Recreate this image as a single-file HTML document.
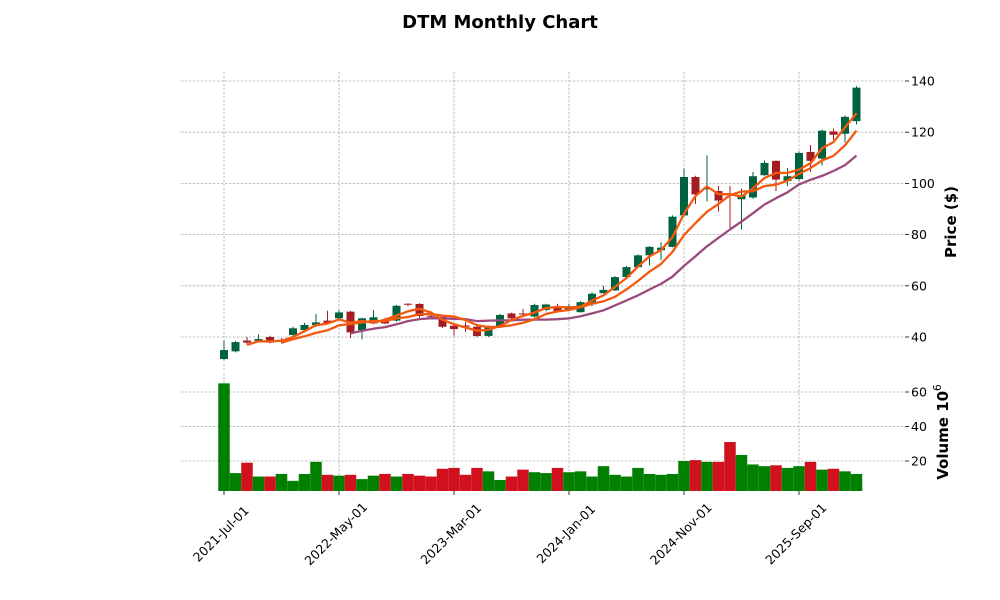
<!DOCTYPE html>
<html><head><meta charset="utf-8"><style>
body{margin:0;background:#fff;}
svg{display:block;font-family:"DejaVu Sans","Liberation Sans",sans-serif;}
</style></head><body>
<svg id="s" width="1000" height="600" xmlns="http://www.w3.org/2000/svg">
<text x="500" y="28" text-anchor="middle" font-size="18" font-weight="bold">DTM Monthly Chart</text>
<g id="g"></g>
</svg>
<script>
const D=[
[31.4,34.9,38.6,31],[34.4,38,38.5,34],[38.6,37.8,40,37],[38.5,39.2,41,38],[40,37.8,40.5,37.5],[38.3,38.7,39.5,37.5],
[40.8,43.4,44,40.5],[42.7,44.7,45.5,42],[44.7,45.7,49,44],[46.4,45.3,50.3,45],[47.3,49.6,50.5,47],[49.9,41.8,50.2,39.5],
[42.7,47.3,47.5,39],[45.3,47.7,50.5,45],[46.6,45.3,47.5,45],[46.4,52.2,52.5,46],[53,52.6,53.2,52],[52.9,48.2,53.2,47.5],
[48.3,47.9,48.6,47],[47.9,44,48.5,43.5],[44.4,43.1,45,40.5],[44.5,44,46,42],[44,40.4,44.5,40],[40.4,44,44.5,40],
[44,48.6,49,43.5],[49.2,47.3,49.5,47],[49.2,48.8,51,48],[48,52.5,53,47.5],[50.6,52.7,53,50],[51.9,50,53,49.5],
[50.5,52,53,50],[49.7,53.6,54,49.5],[52.7,56.9,57.5,52],[57.1,58.4,60,57],[58.2,63.4,63.8,58],[63.4,67.3,67.8,63],
[67.3,71.9,72.3,67],[71.9,75.2,75.5,68],[73.9,74.9,77,70],[75.2,87,87.5,75],[87.5,102.5,105.8,87],[102.5,95.7,103,92],
[97.7,98.3,111,93],[97,93.3,99,89],[96,95.8,99,82.6],[93.8,95.5,98,82],[94.5,102.8,104.5,94],[103.2,108,109,103],
[108.8,101.5,109,97],[100.9,102.8,106,99],[101.7,111.9,112.5,101],[112.3,108.8,115,104.5],[109.7,120.6,121,107],[120.3,119,121.5,117],
[119.4,126,126.5,116],[124.3,137.4,138,123]];
const V=[65,13,19,11,11,12.5,8.5,12.5,19.5,12,11.5,12,9.5,11.5,12.5,11,12.5,11.5,11,15.5,16,12,16,14,9,11,15,13.5,13,16,13.5,14,11,17,12,11,16,12.5,12,12.5,20,20.5,19.5,19.5,31,23.5,18,17,17.5,16,17,19.5,15,15.5,14,12.5];
const X=m=>224+11.5*m, PY=p=>337-(p-40)*2.56, VY=v=>495.5-v*1.725;
let h='';
const G='#006340',R='#a31d23',VG='#007f00',VR='#d0101c';
for(const p of [40,60,80,100,120,140])h+=`<line x1="181" x2="905" y1="${PY(p)}" y2="${PY(p)}" stroke="#b0b0b0" stroke-width="0.8" stroke-dasharray="2.5,1.5"/><line x1="905" x2="909" y1="${PY(p)}" y2="${PY(p)}" stroke="#000" stroke-width="0.8"/><text x="911" y="${PY(p)+4.5}" font-size="12.5">${p}</text>`;
for(const v of [20,40,60])h+=`<line x1="181" x2="905" y1="${VY(v)}" y2="${VY(v)}" stroke="#b0b0b0" stroke-width="0.8" stroke-dasharray="2.5,1.5"/><line x1="905" x2="909" y1="${VY(v)}" y2="${VY(v)}" stroke="#000" stroke-width="0.8"/><text x="911" y="${VY(v)+4.5}" font-size="12.5">${v}</text>`;
const labs=['2021-Jul-01','2022-May-01','2023-Mar-01','2024-Jan-01','2024-Nov-01','2025-Sep-01'];
labs.forEach((l,i)=>{const x=X(i*10);
h+=`<line x1="${x}" x2="${x}" y1="72" y2="370" stroke="#b0b0b0" stroke-width="0.8" stroke-dasharray="2.5,1.5"/><line x1="${x}" x2="${x}" y1="373" y2="491" stroke="#b0b0b0" stroke-width="0.8" stroke-dasharray="2.5,1.5"/><line x1="${x}" x2="${x}" y1="491" y2="495" stroke="#000" stroke-width="0.8"/><text transform="translate(${x},537) rotate(-45)" text-anchor="middle" font-size="12.5">${l}</text>`;});
V.forEach((v,i)=>{const c=D[i][1]>=D[i][0]?VG:VR;const y=VY(v);h+=`<rect x="${X(i)-5.75}" y="${y}" width="11.5" height="${491-y}" fill="${c}"/>`;});
D.forEach((d,i)=>{const [o,c,hi,lo]=d;const col=c>=o?G:R;const x=X(i);
h+=`<line x1="${x}" x2="${x}" y1="${PY(hi)}" y2="${PY(lo)}" stroke="${col}" stroke-width="1"/>`;
const t=PY(Math.max(o,c)),b=PY(Math.min(o,c));h+=`<rect x="${x-4}" y="${t}" width="8" height="${Math.max(b-t,1)}" fill="${col}"/>`;});
function ma(n,col){let pts=[];for(let i=n-1;i<D.length;i++){let s=0;for(let j=i-n+1;j<=i;j++)s+=D[j][1];pts.push(X(i).toFixed(1)+','+PY(s/n).toFixed(1));}
h+=`<polyline points="${pts.join(' ')}" fill="none" stroke="${col}" stroke-width="2.3" stroke-linejoin="round"/>`;}
ma(12,'#9b4a7e');ma(6,'#f4590f');ma(3,'#f4590f');
h+=`<text transform="translate(956,222) rotate(-90)" text-anchor="middle" font-size="15" font-weight="bold">Price ($)</text>`;
h+=`<text transform="translate(948,432) rotate(-90)" text-anchor="middle" font-size="15" font-weight="bold">Volume  10<tspan font-size="10.5" dy="-7" font-weight="normal">6</tspan></text>`;
document.getElementById('g').innerHTML=h;
</script>
</body></html>
